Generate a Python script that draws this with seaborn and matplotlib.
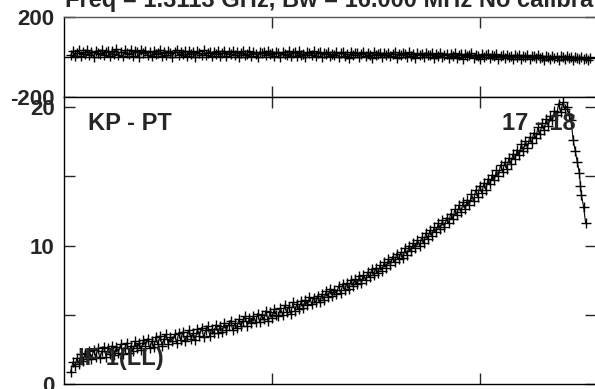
import numpy as np
import pandas as pd
import matplotlib
matplotlib.use("Agg")
import matplotlib.pyplot as plt
import seaborn as sns

# --- data (channel vs phase / amplitude) ---
top_channels = np.arange(6, 507, 2)
top_phase = [
    12, 30, 5, 22, 34, 8, 26, 18, 38, 10,
    28, 3, 32, 20, 14, 36, 9, 25, 31, 6,
    33, 15, 40, 12, 27, 4, 35, 21, 17, 37,
    8, 29, 24, 2, 34, 19, 30, 11, 26, 5,
    31, 16, 22, 36, 7, 28, 13, 33, 20, 3,
    27, 35, 10, 24, 18, 32, 6, 29, 15, 25,
    2, 30, 21, 12, 34, 9, 23, 28, 4, 26,
    17, 31, 8, 20, 33, 5, 24, 14, 29, 11,
    27, 1, 22, 30, 13, 18, 32, 7, 25, 16,
    3, 28, 19, 24, 9, 30, 14, 21, 6, 27,
    23, 0, 26, 17, 11, 31, 8, 20, 25, 4,
    29, 13, 18, 2, 27, 22, 10, 30, 7, 19,
    24, -1, 21, 16, 28, 5, 18, 12, 26, 3,
    20, 25, 8, 14, -2, 27, 11, 19, 23, 1,
    17, 24, 6, 21, 13, -3, 25, 10, 16, 22,
    0, 19, 12, 23, 4, 15, 26, -4, 18, 9,
    21, 14, 2, 24, 7, 17, -5, 20, 11, 16,
    3, 22, 9, 13, 19, -6, 15, 6, 21, 1,
    12, 18, -4, 16, 8, 20, -2, 11, 14, -7,
    17, 5, 10, 19, -3, 13, 7, -8, 15, 2,
    9, 16, -6, 12, 4, 14, -9, 8, 11, -2,
    13, 0, 6, -10, 10, 3, 12, -7, 5, -1,
    9, -11, 4, 8, -5, 11, -3, 2, -12, 6,
    0, -8, 7, -4, 3, -13, 5, -1, -9, 4,
    -6, 2, -14, 1, -3, -10, 3, -7, -2, -12,
    -4,
]

bot_channels = list(range(6, 487, 2)) + [488, 490, 492, 494, 496, 497, 498, 500, 502]
bot_amp = [
    0.9, 1.6, 1.3, 1.9, 1.5, 2.2, 1.7, 2.3, 1.8, 2.4,
    1.8, 2.5, 2.0, 2.6, 1.9, 2.4, 2.7, 2.0, 2.6, 2.2,
    2.8, 2.1, 2.7, 2.3, 2.9, 2.2, 2.6, 3.0, 2.3, 2.8,
    2.4, 3.1, 2.6, 3.0, 2.5, 3.2, 2.8, 3.3, 2.6, 3.1,
    2.7, 3.4, 2.9, 3.5, 2.8, 3.3, 3.6, 2.9, 3.4, 3.1,
    3.6, 3.0, 3.7, 3.2, 3.8, 3.1, 3.5, 3.9, 3.3, 3.7,
    3.2, 4.0, 3.5, 4.1, 3.4, 3.9, 4.2, 3.5, 4.0, 3.7,
    4.3, 3.7, 4.2, 3.8, 4.4, 3.9, 4.3, 4.6, 3.9, 4.4,
    4.1, 4.7, 4.2, 4.6, 4.9, 4.2, 4.8, 4.4, 4.9, 4.5,
    5.1, 4.5, 5.0, 4.7, 5.3, 4.6, 5.2, 4.8, 5.4, 5.0,
    4.9, 5.5, 5.0, 5.7, 5.2, 5.6, 5.1, 5.9, 5.3, 5.8,
    5.4, 6.0, 5.5, 6.1, 5.7, 6.3, 5.8, 6.2, 5.9, 6.4,
    5.9, 6.5, 6.1, 6.7, 6.3, 6.9, 6.4, 6.8, 6.5, 7.1,
    6.6, 7.2, 6.8, 7.3, 6.9, 7.5, 7.1, 7.6, 7.2, 7.8,
    7.3, 7.9, 7.5, 8.1, 7.7, 8.3, 7.9, 8.4, 8.0, 8.6,
    8.2, 8.8, 8.4, 9.0, 8.6, 9.2, 8.8, 9.4, 9.0, 9.5,
    9.1, 9.8, 9.3, 10.0, 9.6, 10.2, 9.8, 10.4, 10.0, 10.6,
    10.2, 10.9, 10.5, 11.1, 10.7, 11.3, 11.0, 11.6, 11.2, 11.8,
    11.3, 12.0, 11.6, 12.3, 11.9, 12.6, 12.2, 12.9, 12.4, 13.1,
    12.6, 13.3, 12.9, 13.7, 13.2, 14.0, 13.5, 14.3, 13.8, 14.5,
    14.0, 14.8, 14.4, 15.1, 14.7, 15.4, 15.0, 15.8, 15.3, 16.0,
    15.5, 16.3, 15.9, 16.6, 16.2, 16.9, 16.5, 17.3, 16.8, 17.5,
    17.0, 17.8, 17.4, 18.1, 17.7, 18.5, 18.0, 18.8, 18.3, 19.1,
    18.6, 19.3, 19.0, 19.7, 19.4, 20.2, 19.6, 20.3, 19.8, 20.0,
    19.4,
    19.0, 17.6, 16.8, 16.0, 15.2, 14.3, 13.6, 12.8, 11.6,
]

title_text = "Freq = 1.3113 GHz, Bw = 16.000 MHz No calibration applied"
baseline_label = "KP - PT"
pair_label = "17 - 18"
if_label = "IF 1(LL)"

top_df = pd.DataFrame({"channel": top_channels, "phase": top_phase})
bot_df = pd.DataFrame({"channel": bot_channels, "amp": bot_amp})

sns.set_style("white")
plt.rcParams["font.family"] = ["Liberation Sans", "DejaVu Sans"]
plt.rcParams["font.weight"] = "bold"

fig = plt.figure(figsize=(5.95, 3.89), dpi=100)
ax_top = fig.add_axes([0.1084, 0.7494, 0.8933, 0.2069])
ax_bot = fig.add_axes([0.1084, 0.0116, 0.8933, 0.7378])

marker_kw = dict(marker="+", markersize=7, markeredgewidth=1.0,
                 markeredgecolor="black", markerfacecolor="black")

# top panel: phase
ax_top.axhline(0, color="black", lw=1.0)
sns.lineplot(data=top_df, x="channel", y="phase", ax=ax_top, color="black",
             lw=0.7, estimator=None, sort=False, **marker_kw)
ax_top.set_xlim(0, 512)
ax_top.set_ylim(-200, 200)
ax_top.set_yticks([-200, 200])
ax_top.set_yticklabels(["-200", "200"])
ax_top.set_xticks([200, 400])
ax_top.set_xticklabels([])

# bottom panel: amplitude
sns.lineplot(data=bot_df, x="channel", y="amp", ax=ax_bot, color="black",
             lw=0.8, estimator=None, sort=False, **marker_kw)
ax_bot.set_xlim(0, 512)
ax_bot.set_ylim(0, 20.65)
ax_bot.set_yticks([0, 10, 20])
ax_bot.set_yticks([5, 15], minor=True)
ax_bot.set_xticks([200, 400])
ax_bot.set_xticklabels([])

for ax in (ax_top, ax_bot):
    ax.set_xlabel("")
    ax.set_ylabel("")
    for side in ax.spines.values():
        side.set_color("black")
        side.set_linewidth(1.0)
    ax.tick_params(which="both", direction="in", length=8, width=1,
                   top=True, right=True, left=True, bottom=True,
                   labelsize=16, pad=7)
    for lab in ax.get_yticklabels():
        lab.set_fontweight("bold")

ax_top.spines["top"].set_color("#555555")
ax_top.spines["bottom"].set_color("#555555")

ax_bot.text(0.045, 0.885, baseline_label, transform=ax_bot.transAxes,
            fontsize=17, fontweight="bold", va="baseline", ha="left")
ax_bot.text(0.823, 0.885, pair_label, transform=ax_bot.transAxes,
            fontsize=17, fontweight="bold", va="baseline", ha="left")
ax_bot.text(0.026, 0.069, if_label, transform=ax_bot.transAxes,
            fontsize=17, fontweight="bold", va="baseline", ha="left")

fig.text(0.109, 0.981, title_text, fontsize=17, fontweight="bold",
         va="baseline", ha="left")

fig.savefig("out.png", dpi=100)
